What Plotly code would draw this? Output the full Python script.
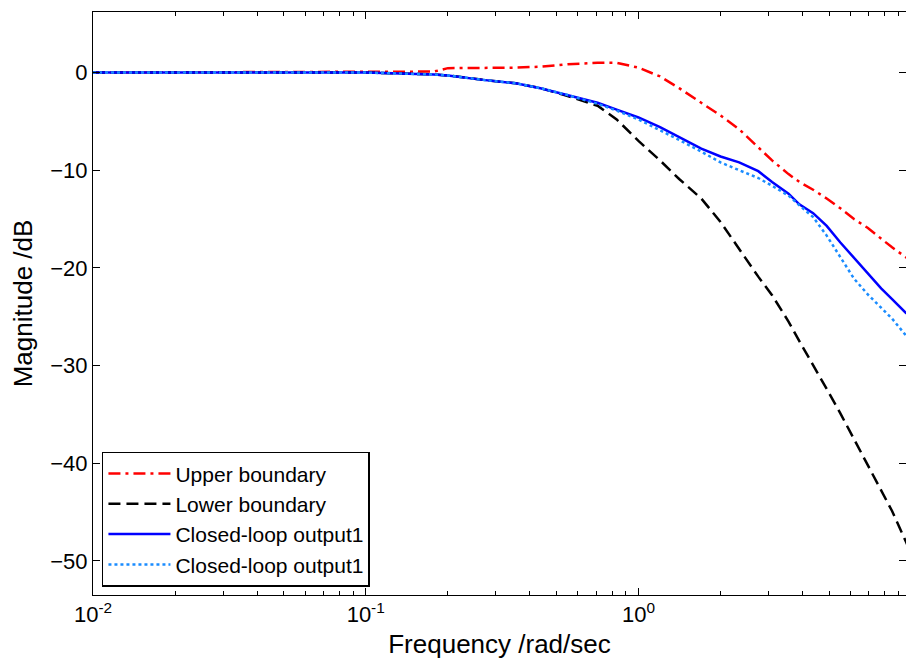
import plotly.graph_objects as go

# Frequencies (rad/sec) shared by all traces
freq = [0.01, 0.0316, 0.1, 0.178, 0.2, 0.269, 0.355, 0.437, 0.550, 0.708, 0.832,
        1.0, 1.20, 1.41, 1.70, 2.0, 2.34, 2.75, 3.09, 3.55, 3.89, 4.37, 4.90,
        5.50, 6.17, 6.92, 7.76, 8.51, 9.55, 10.0]

upper = [0, 0.05, 0.1, 0.1, 0.45, 0.45, 0.5, 0.6, 0.85, 1.0, 1.0,
         0.5, -0.4, -1.6, -3.1, -4.4, -5.8, -7.6, -9.0, -10.4, -11.2, -12.0, -12.9,
         -13.9, -15.0, -15.9, -17.0, -17.9, -18.9, -19.3]

lower = [0, 0, 0, -0.2, -0.3, -0.75, -1.1, -1.6, -2.4, -3.4, -4.8,
         -7.0, -9.0, -10.9, -12.9, -15.3, -18.1, -20.9, -22.8, -25.5, -27.5, -29.9, -32.4,
         -34.9, -37.5, -40.1, -42.7, -44.9, -48.0, -49.3]

closed1 = [0, 0, 0, -0.2, -0.3, -0.75, -1.1, -1.6, -2.3, -3.1, -3.8,
           -4.6, -5.6, -6.6, -7.8, -8.6, -9.2, -10.1, -11.2, -12.4, -13.5, -14.4, -15.7,
           -17.4, -19.0, -20.5, -22.1, -23.2, -24.6, -25.0]

closed2 = [0, 0, 0, -0.2, -0.3, -0.75, -1.1, -1.6, -2.3, -3.2, -3.9,
           -4.8, -5.9, -6.9, -8.1, -9.2, -10.0, -10.8, -11.6, -12.6, -13.6, -14.8, -16.7,
           -18.9, -21.1, -22.7, -24.1, -25.2, -26.9, -27.5]

names = ["Upper boundary", "Lower boundary", "Closed-loop output1", "Closed-loop output1"]

x_tickvals = [0.01, 0.1, 1]
x_ticktext = ["10<sup>-2</sup>", "10<sup>-1</sup>", "10<sup>0</sup>"]
x_minor = [m * d for d in (0.01, 0.1, 1) for m in range(2, 10)]
y_tickvals = [0, -10, -20, -30, -40, -50]

X_RANGE = [-2, 0.981]
Y_RANGE = [-53.5, 6.2]

FONT = "Liberation Sans, Arial, sans-serif"

fig = go.Figure()
fig.add_trace(go.Scatter(x=freq, y=upper, mode="lines", name=names[0],
                         line=dict(color="#ff0000", width=2.5, dash="12px,5px,3px,5px")))
fig.add_trace(go.Scatter(x=freq, y=lower, mode="lines", name=names[1],
                         line=dict(color="#000000", width=2.5, dash="12px,6px")))
fig.add_trace(go.Scatter(x=freq, y=closed1, mode="lines", name=names[2],
                         line=dict(color="#0000ff", width=2.5)))
fig.add_trace(go.Scatter(x=freq, y=closed2, mode="lines", name=names[3],
                         line=dict(color="#1a8cff", width=2.5, dash="3px,3px")))

fig.update_layout(
    width=906, height=662,
    margin=dict(l=93, r=0, t=12, b=67),
    paper_bgcolor="white", plot_bgcolor="white",
    font=dict(family=FONT, size=22, color="black"),
    showlegend=True,
    legend=dict(x=0.011, y=0.014, xanchor="left", yanchor="bottom",
                bgcolor="white", bordercolor="black", borderwidth=1.5,
                font=dict(size=21), tracegroupgap=0, itemwidth=62),
    xaxis=dict(type="log", range=X_RANGE,
               tickvals=x_tickvals, ticktext=x_ticktext,
               ticks="inside", ticklen=7, tickcolor="black",
               minor=dict(tickvals=x_minor, ticks="inside", ticklen=4, tickcolor="black"),
               showline=True, linecolor="black", linewidth=1, mirror="ticks",
               showgrid=False, zeroline=False,
               title=dict(text="Frequency /rad/sec", standoff=8),
               tickfont=dict(size=22)),
    xaxis2=dict(type="log", range=X_RANGE, overlaying="x", side="top",
                tickvals=x_tickvals, showticklabels=False,
                ticks="inside", ticklen=4, tickcolor="black",
                minor=dict(tickvals=x_minor, ticks="inside", ticklen=4, tickcolor="black"),
                showline=False, showgrid=False, zeroline=False),
    yaxis=dict(range=Y_RANGE, tickvals=y_tickvals,
               ticks="inside", ticklen=7, tickcolor="black",
               showline=True, linecolor="black", linewidth=1, mirror="ticks",
               showgrid=False, zeroline=False,
               title=dict(text="Magnitude /dB", standoff=10),
               tickfont=dict(size=22)),
)
# invisible helper trace to activate the top axis
fig.add_trace(go.Scatter(x=[freq[0]], y=[upper[0]], xaxis="x2", mode="lines",
                         showlegend=False, hoverinfo="skip",
                         line=dict(color="rgba(0,0,0,0)")))

fig.write_html("out.html")
